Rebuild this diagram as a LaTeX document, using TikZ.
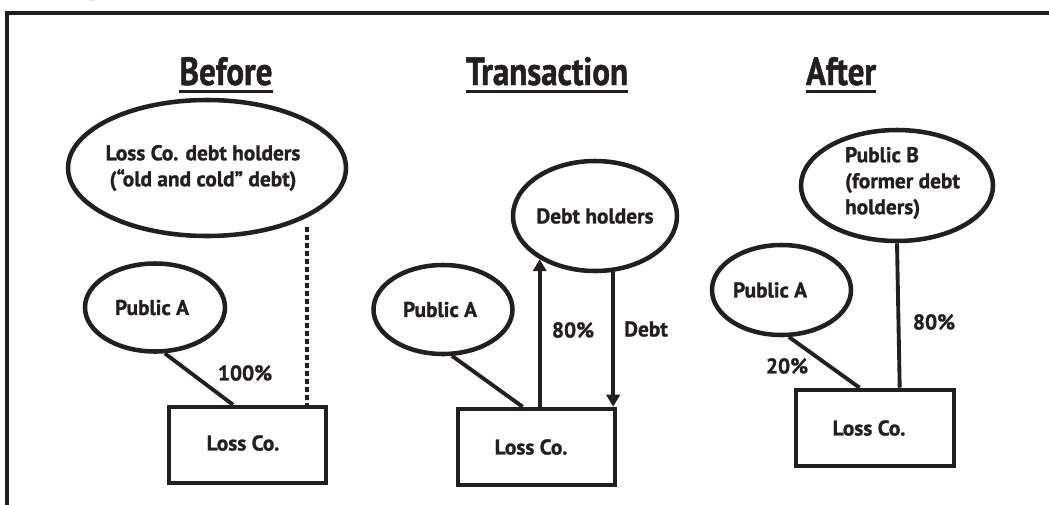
\documentclass[tikz,border=0pt]{standalone}
\usepackage{fontspec}
\setmainfont{PT Sans}
\newfontfamily\lblfont[FakeBold=1.2]{PT Sans Bold}
\newfontfamily\headfont[FakeStretch=0.84,FakeBold=1.2]{PT Sans Bold}
\newfontfamily\titlefont{Liberation Serif}
\usetikzlibrary{arrows.meta,shapes.geometric,calc}
\definecolor{ink}{HTML}{231F20}

\tikzset{
  lbl/.style={font=\lblfont\fontsize{16pt}{19.5pt}\selectfont, text=ink, inner sep=0pt},
  head/.style={font=\headfont\fontsize{29.5pt}{30pt}\selectfont, text=ink, inner sep=0pt, anchor=base},
  oval/.style={ellipse, draw=ink, line width=3.4pt, inner sep=0pt},
  firm/.style={rectangle, draw=ink, line width=3.4pt, inner sep=0pt, minimum width=117.75pt, minimum height=57pt},
  link/.style={draw=ink, line width=2.9pt},
  owns/.style={draw=ink, line width=3.3pt, -{Triangle[length=9pt,width=10pt]}},
  oldtie/.style={draw=ink, line width=3.6pt, dash pattern=on 3.8pt off 2.2pt},
  rule/.style={draw=ink, line width=2pt},
  frame/.style={draw=ink, line width=2.6pt, line cap=rect}
}

\begin{document}
\begin{tikzpicture}[x=0.75pt, y=-0.75pt]
\useasboundingbox (0,0) rectangle (1049,504);

% outer frame (open towards the right and bottom) and the tail of the caption above it
\draw[frame] (7,504) -- (7,13) -- (1049,13);
\begin{scope}
  \clip (0,0) rectangle (1049,504);
  \node[font=\titlefont\bfseries\fontsize{18pt}{20pt}\selectfont, text=ink, inner sep=0pt, anchor=base west] (cap) at (88,-4.6) {p};
\end{scope}

% column headings
\node[head] (hbefore) at (226,85) {Before};
\node[head] (htrans) at (547,85) {Transaction};
\node[head] (hafter) at (841,85) {After};
\foreach \h in {hbefore,htrans,hafter}
  \draw[rule] ([yshift=-4.9pt]\h.base west) -- ([yshift=-4.9pt]\h.base east);

% ---------------- Before ----------------
\node[oval, minimum width=208.5pt, minimum height=102pt,
  label={[lbl, align=center, xshift=-3pt]center:{Loss Co. debt holders\\(“old and cold” debt)}}] (oldd) at (207,168) {};
\node[oval, minimum width=105pt, minimum height=66pt,
  label={[lbl, xshift=-2.25pt]center:Public A}] (pa1) at (155,307.5) {};
\node[firm, label={[lbl, xshift=-3.4pt, yshift=1.5pt]center:Loss Co.}] (lc1) at (247.5,445) {};
\draw[link] (pa1.-78) -- ($(lc1.north west)!0.41!(lc1.north east)$);
\coordinate (oldend) at (307,227);
\draw[oldtie] (oldend) -- (oldend |- lc1.north);
\node[lbl] (p100) at (245,373) {100\%};

% ---------------- Transaction ----------------
\node[oval, minimum width=123pt, minimum height=82.5pt,
  label={[lbl]center:Debt holders}] (dh) at (595,216) {};
\node[oval, minimum width=104.25pt, minimum height=66.75pt,
  label={[lbl, xshift=-2.25pt]center:Public A}] (pa2) at (443,309.5) {};
\node[firm, label={[lbl, xshift=-4.1pt]center:Loss Co.}] (lc2) at (536.5,447) {};
\draw[link] (pa2.-79) -- ($(lc2.north west)!0.414!(lc2.north east)$);
\draw[owns] (dh.218.4 |- lc2.north) -- (dh.218.4);
\draw[owns] (dh.288.4) -- (dh.288.4 |- lc2.north);
\node[lbl] (p80a) at (573,330) {80\%};
\node[lbl] (pdebt) at (646,329) {Debt};

% ---------------- After ----------------
\node[oval, minimum width=144pt, minimum height=83.25pt,
  label={[lbl, align=left, xshift=4.1pt, yshift=1.9pt]center:{Public B\\(former debt\\holders)}}] (pb) at (897,185.5) {};
\node[oval, minimum width=104.25pt, minimum height=67.5pt,
  label={[lbl, xshift=-8.6pt]center:Public A}] (pa3) at (781.5,290) {};
\node[firm, minimum width=118.5pt, label={[lbl, xshift=-4.5pt]center:Loss Co.}] (lc3) at (875,428) {};
\draw[link] (pa3.-81) -- ($(lc3.north west)!0.405!(lc3.north east)$);
\draw[link] (pb.south) -- ($(lc3.north west)!0.652!(lc3.north east)$);
\node[lbl] (p80b) at (934,322) {80\%};
\node[lbl] (p20) at (787,366) {20\%};
\end{tikzpicture}
\end{document}
